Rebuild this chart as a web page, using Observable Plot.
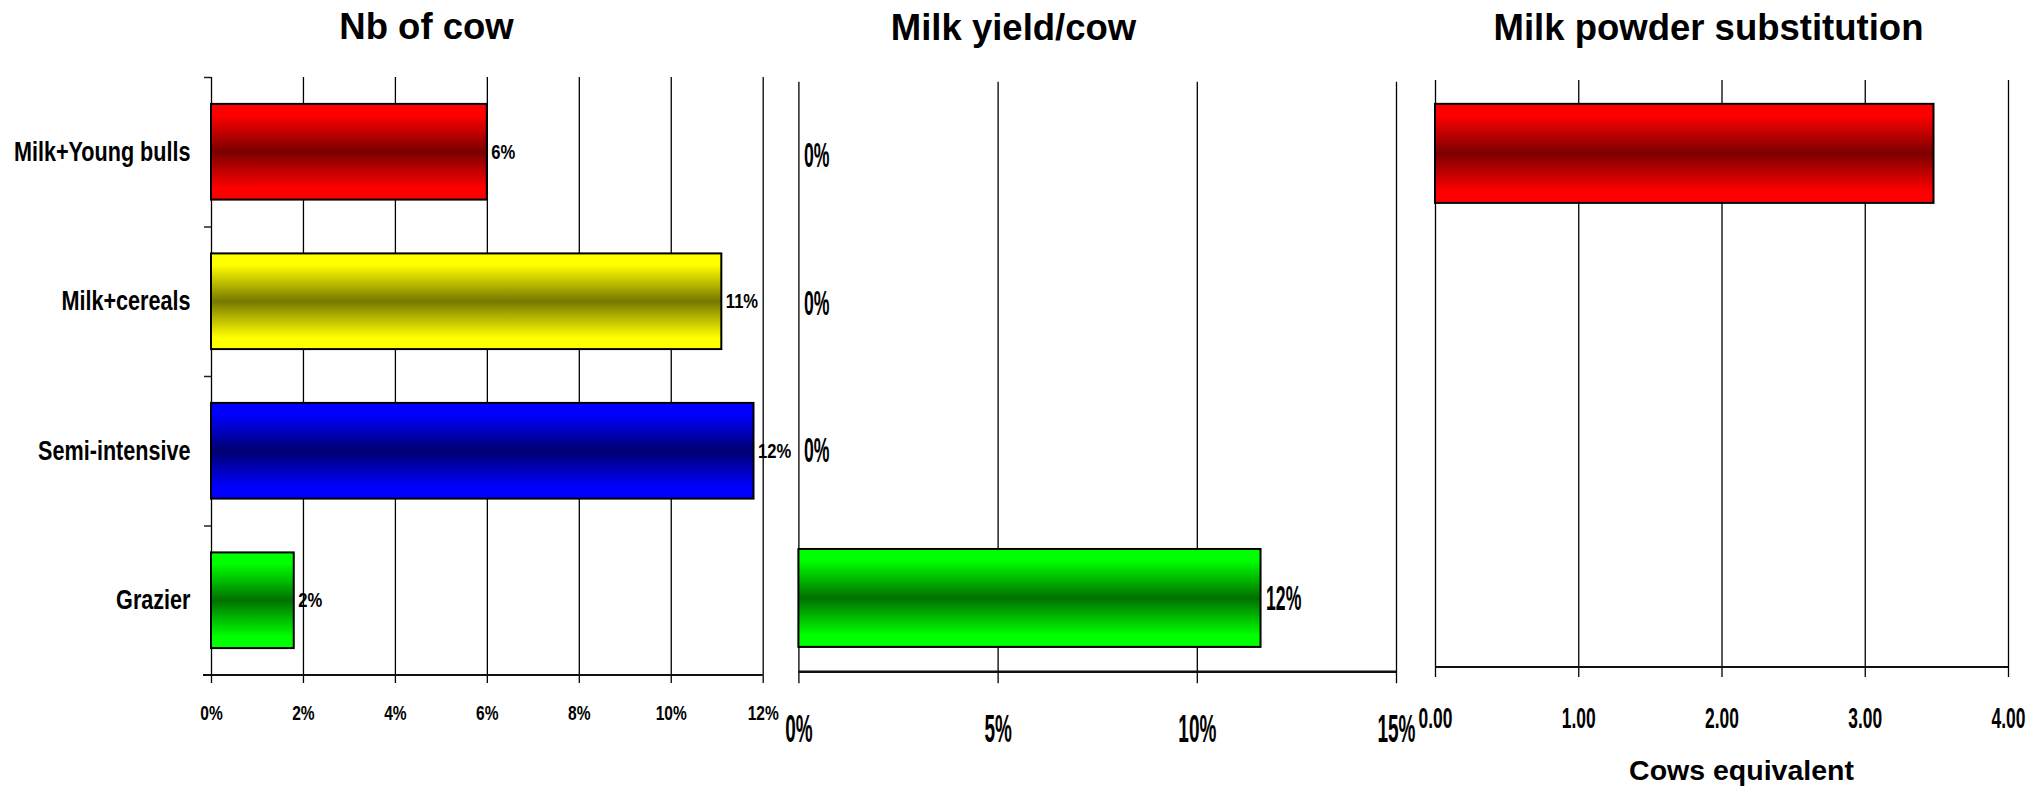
<!DOCTYPE html>
<html>
<head>
<meta charset="utf-8">
<script src="https://cdn.jsdelivr.net/npm/d3@7"></script>
<script src="https://cdn.jsdelivr.net/npm/@observablehq/plot@0.6"></script>
<style>
  html, body { margin: 0; padding: 0; background: #fff; }
  #chart {
    position: relative; width: 2029px; height: 786px; overflow: hidden;
    font-family: "Liberation Sans", Arial, Helvetica, sans-serif; color: #000;
  }
  .panel { position: absolute; top: 0; }
  .panel svg { overflow: visible; }
  .heading { position: absolute; font-weight: bold; white-space: nowrap; line-height: 1; transform: translateX(-50%); }
</style>
</head>
<body>
<div id="chart"></div>
<script>
// ---- data ----
const categories = ["Milk+Young bulls", "Milk+cereals", "Semi-intensive", "Grazier"];
const nbOfCow = [6.0, 11.1, 11.8, 1.8];          // % change in number of cows
const milkYieldPerCow = [0, 0, 0, 11.6];         // % change in milk yield per cow
const powderCowsEquivalent = [3.48, 0, 0, 0];    // milk powder substitution, cows equivalent
const nbOfCowTicks = [0, 2, 4, 6, 8, 10, 12];
const milkYieldTicks = [0, 5, 10, 15];
const powderTicks = [0, 1, 2, 3, 4];
const panelTitles = ["Nb of cow", "Milk yield/cow", "Milk powder substitution"];
const powderAxisLabel = "Cows equivalent";

// ---- styling ----
const FONT = "'Liberation Sans', Arial, Helvetica, sans-serif";
const shades = {                     // [edge, centre] of each bar's gradient
  "Milk+Young bulls": ["#ff0000", "#7a0000"],
  "Milk+cereals":     ["#ffff00", "#787800"],
  "Semi-intensive":   ["#0000ff", "#000070"],
  "Grazier":          ["#00ff00", "#007000"]
};

const rows = values => categories.map((category, i) => ({category, value: values[i]}));
const pct = v => `${Math.round(v)}%`;
const fill = prefix => d => `url(#${prefix}-${categories.indexOf(d.category)})`;

// gradient definitions, rendered as a custom mark
const gradientDefs = prefix => () => {
  const defs = d3.create("svg:defs");
  categories.forEach((c, i) => {
    const [edge, centre] = shades[c];
    const g = defs.append("linearGradient")
      .attr("id", `${prefix}-${i}`)
      .attr("x1", 0).attr("y1", 0).attr("x2", 0).attr("y2", 1);
    [[0, edge], [0.12, edge], [0.5, centre], [0.88, edge], [1, edge]]
      .forEach(([o, col]) => g.append("stop").attr("offset", o).attr("stop-color", col));
  });
  return defs.node();
};

// bottom axis line spanning the tick range
const axisLine = (ticks, extLeft, strokeWidth) => (index, {x}, values, {height, marginBottom}) => {
  const y = height - marginBottom;
  return d3.create("svg:line")
    .attr("x1", x(ticks[0]) - extLeft).attr("x2", x(ticks[ticks.length - 1]))
    .attr("y1", y).attr("y2", y)
    .attr("stroke", "#111").attr("stroke-width", strokeWidth)
    .node();
};

// horizontally condense texts about each text's own anchor; the factor is
// chosen by the font size the text inherits (each text mark has its own size)
function squeeze(svg, factorBySize) {
  d3.select(svg).selectAll("text").each(function () {
    const holder = this.closest("[font-size]");
    if (!holder) return;
    const sx = factorBySize[String(parseFloat(holder.getAttribute("font-size")))];
    if (!sx) return;
    const t = this.getAttribute("transform") || "";
    const x = parseFloat(this.getAttribute("x")) || 0;
    this.setAttribute("transform", `${t} translate(${x},0) scale(${sx},1) translate(${-x},0)`);
  });
}

const bold = {fontWeight: "bold", fill: "#000"};
const baseStyle = {overflow: "visible", background: "transparent", fontFamily: FONT};
const grid = {x: d => d, stroke: "#000", strokeWidth: 1.3};

// ---- panel 1: number of cows ----
const m1 = {top: 77, bottom: 111};
const step1 = (786 - m1.top - m1.bottom) / categories.length;
const p1 = Plot.plot({
  width: 780, height: 786,
  marginLeft: 211, marginRight: 17.3, marginTop: m1.top, marginBottom: m1.bottom,
  style: baseStyle,
  x: {domain: [0, 12], axis: null},
  y: {domain: categories, paddingInner: 0.36, paddingOuter: 0.18, round: false, axis: null},
  color: {type: "identity"},
  marks: [
    gradientDefs("g1"),
    Plot.ruleX(nbOfCowTicks, {...grid, insetBottom: -8}),
    Plot.axisY({tickSize: 7, tickFormat: () => "", label: null, dy: -step1 / 2, stroke: "#222", strokeWidth: 1.5}),
    Plot.barX(rows(nbOfCow).filter(d => d.value > 0), {x: "value", y: "category", fill: fill("g1"), stroke: "#000", strokeWidth: 2}),
    Plot.text(rows(nbOfCow), {x: "value", y: "category", text: d => pct(d.value), textAnchor: "start", dx: 4, fontSize: 20, ...bold}),
    Plot.text(categories, {y: d => d, text: d => d, frameAnchor: "left", textAnchor: "end", dx: -21, fontSize: 27, ...bold}),
    Plot.text(nbOfCowTicks, {x: d => d, text: d => `${d}%`, frameAnchor: "bottom", lineAnchor: "top", dy: 30, fontSize: 21, ...bold}),
    axisLine(nbOfCowTicks, 8, 2)
  ]
});
squeeze(p1, {"20": 0.83, "27": 0.80, "21": 0.74});

// ---- panel 2: milk yield per cow ----
const p2 = Plot.plot({
  width: 640, height: 786,
  marginLeft: 18.4, marginRight: 24, marginTop: 81.7, marginBottom: 114.3,
  style: baseStyle,
  x: {domain: [0, 15], axis: null},
  y: {domain: categories, paddingInner: 0.336, paddingOuter: 0.168, round: false, axis: null},
  color: {type: "identity"},
  marks: [
    gradientDefs("g2"),
    Plot.ruleX(milkYieldTicks, {...grid, insetBottom: -11.6}),
    Plot.barX(rows(milkYieldPerCow).filter(d => d.value > 0), {x: "value", y: "category", fill: fill("g2"), stroke: "#000", strokeWidth: 2}),
    Plot.text(rows(milkYieldPerCow), {x: "value", y: "category", text: d => pct(d.value), textAnchor: "start", dx: 5, fontSize: 36, ...bold}),
    Plot.text(milkYieldTicks, {x: d => d, text: d => `${d}%`, frameAnchor: "bottom", lineAnchor: "top", dy: 41.3, fontSize: 39.5, ...bold}),
    axisLine(milkYieldTicks, 0, 2.5)
  ]
});
squeeze(p2, {"36": 0.49, "39.5": 0.48});

// ---- panel 3: milk powder substitution ----
const p3 = Plot.plot({
  width: 609, height: 786,
  marginLeft: 15, marginRight: 21, marginTop: 80, marginBottom: 119,
  style: baseStyle,
  x: {domain: [0, 4], axis: null},
  y: {domain: categories, paddingInner: 0.325, paddingOuter: 0.1625, round: false, axis: null},
  color: {type: "identity"},
  marks: [
    gradientDefs("g3"),
    Plot.ruleX(powderTicks, {...grid, insetBottom: -10}),
    Plot.barX(rows(powderCowsEquivalent).filter(d => d.value > 0), {x: "value", y: "category", fill: fill("g3"), stroke: "#000", strokeWidth: 2}),
    Plot.text(powderTicks, {x: d => d, text: d3.format(".2f"), frameAnchor: "bottom", lineAnchor: "top", dy: 40, fontSize: 29, ...bold}),
    axisLine(powderTicks, 0, 2)
  ]
});
squeeze(p3, {"29": 0.6});

// ---- assemble ----
const chart = document.getElementById("chart");
[[p1, 0], [p2, 780], [p3, 1420]].forEach(([svg, left]) => {
  const div = document.createElement("div");
  div.className = "panel";
  div.style.left = left + "px";
  div.appendChild(svg);
  chart.appendChild(div);
});

// headings: [text, centre x, baseline y, font size]
[
  [panelTitles[0], 426.5, 40, 36.5],
  [panelTitles[1], 1013.5, 41, 36.5],
  [panelTitles[2], 1708.5, 41, 36.5],
  [powderAxisLabel, 1741.5, 780, 28.5]
].forEach(([text, cx, baseline, size]) => {
  const div = document.createElement("div");
  div.className = "heading";
  div.textContent = text;
  div.style.fontSize = size + "px";
  div.style.left = cx + "px";
  div.style.top = (baseline - 0.8465 * size) + "px";
  chart.appendChild(div);
});
</script>
</body>
</html>
